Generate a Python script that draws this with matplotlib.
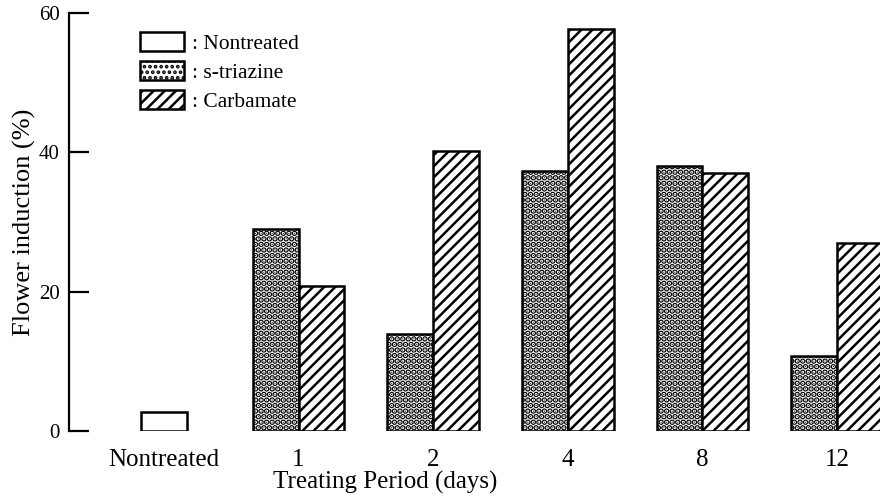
import matplotlib
matplotlib.use("Agg")
import matplotlib.pyplot as plt
from matplotlib.patches import Patch
import numpy as np

# values
categories = ["Nontreated", "1", "2", "4", "8", "12"]
nontreated = [2.7]
s_triazine = [29.0, 13.9, 37.3, 38.0, 10.7]
carbamate = [20.8, 40.2, 57.7, 37.0, 27.0]
yticks = [0, 20, 40, 60]

plt.rcParams["font.family"] = ["Liberation Serif", "DejaVu Serif"]
plt.rcParams["hatch.linewidth"] = 1.8

dots = "..."
stripes = "///"
dot_lw = 3.0


def heavy_dots(patches):
    # thicker hatch stroke only for the dotted pattern
    for p in patches:
        if hasattr(p, "set_hatch_linewidth"):
            p.set_hatch_linewidth(dot_lw)


fig = plt.figure(figsize=(8.8, 5.03), dpi=100)
ax = fig.add_axes([69 / 880, (503 - 430.7) / 503, 1 - 69 / 880, (430.7 - 13.3) / 503])

w = 0.34
x = np.arange(1, len(categories))
ax.bar([0], nontreated, width=w, color="white", edgecolor="black", linewidth=1.8)
with plt.rc_context({"hatch.linewidth": dot_lw}):
    b = ax.bar(x - w / 2, s_triazine, width=w, color="white", edgecolor="black",
               linewidth=1.8, hatch=dots)
heavy_dots(b)
ax.bar(x + w / 2, carbamate, width=w, color="white", edgecolor="black",
       linewidth=1.8, hatch=stripes)

ax.set_xlim(-0.706, 5.32)
ax.set_ylim(0, 60)
ax.set_xticks(np.arange(len(categories)))
ax.set_xticklabels(categories)
ax.set_yticks(yticks)
ax.tick_params(axis="x", length=0, pad=13, labelsize=18)
ax.tick_params(axis="y", direction="in", length=14.5, width=1.6, pad=6.5, labelsize=15)

for s in ["top", "right", "bottom"]:
    ax.spines[s].set_visible(False)
ax.spines["left"].set_linewidth(1.6)

ax.set_xlabel("Treating Period (days)", fontsize=18)
ax.xaxis.set_label_coords((385 - 69) / 811, -0.097)
ax.set_ylabel("Flower induction (%)", fontsize=19)
ax.yaxis.set_label_coords((36 - 69) / 811, 0.5)

with plt.rc_context({"hatch.linewidth": dot_lw}):
    dot_handle = Patch(facecolor="white", edgecolor="black", linewidth=1.8, hatch=dots)
heavy_dots([dot_handle])
handles = [Patch(facecolor="white", edgecolor="black", linewidth=1.8),
           dot_handle,
           Patch(facecolor="white", edgecolor="black", linewidth=1.8, hatch=stripes)]
labels = [": Nontreated", ": s-triazine", ": Carbamate"]
ax.legend(handles, labels, loc="upper left", bbox_to_anchor=(140 / 880, 1 - 32 / 503),
          bbox_transform=fig.transFigure, frameon=False, fontsize=15.5,
          handlelength=2.05, handleheight=1.0, handletextpad=0.35,
          labelspacing=0.33, borderpad=0, borderaxespad=0)

fig.savefig("out.png", dpi=100)
